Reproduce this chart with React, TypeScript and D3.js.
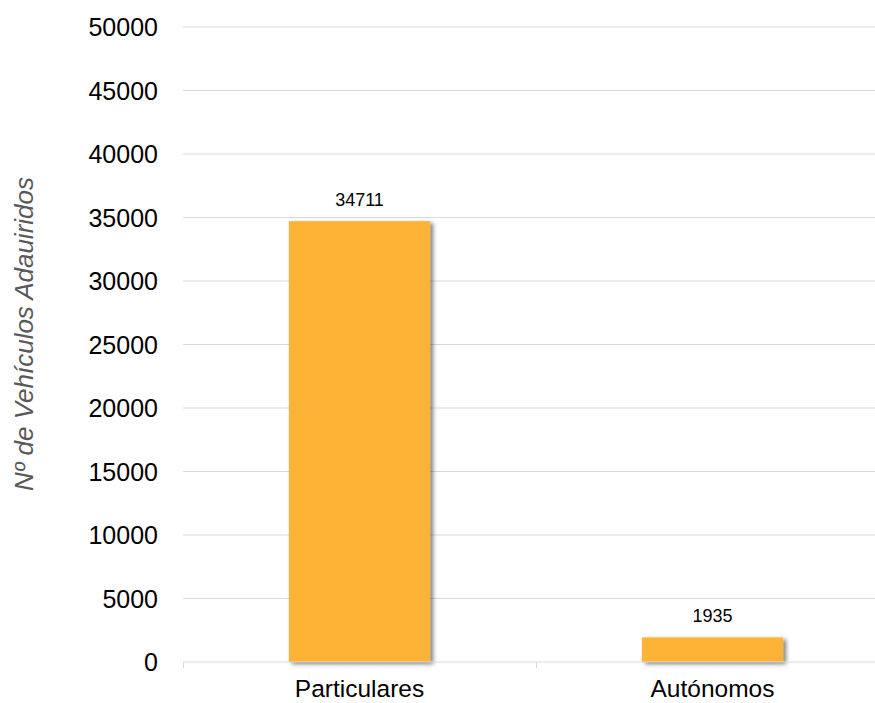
import React from "react";
import * as d3 from "d3";

const categories = ["Particulares", "Autónomos"];
const values = [34711, 1935];
const yTicks = [0, 5000, 10000, 15000, 20000, 25000, 30000, 35000, 40000, 45000, 50000];
const yTitle = "Nº de Vehículos Adauiridos";

export default function App() {
  const W = 875, H = 703;
  const left = 183, right = 889, top = 27, bottom = 662;
  const x = d3.scaleBand<string>().domain(categories).range([left, right]).paddingInner(0.6).paddingOuter(0.3);
  const xb = d3.scaleBand<string>().domain(categories).range([left, right]);
  const y = d3.scaleLinear().domain([0, 50000]).range([bottom, top]);
  const font = "'Liberation Sans', Arial, sans-serif";
  return (
    <svg width={W} height={H} style={{ position: "absolute", left: 0, top: 0 }} fontFamily={font}>
      <defs>
        <filter id="sh" x="-20%" y="-20%" width="150%" height="150%">
          <feDropShadow dx="3" dy="2" stdDeviation="2" floodColor="#000" floodOpacity="0.5" />
        </filter>
      </defs>
      <rect width={W} height={H} fill="#fff" />
      {yTicks.filter(t => t > 0).map(t => (
        <line key={t} x1={left} x2={right} y1={y(t)} y2={y(t)} stroke="#d9d9d9" strokeWidth={1} />
      ))}
      {yTicks.map(t => (
        <text key={"l" + t} x={158} y={y(t)} textAnchor="end" dominantBaseline="central" fontSize={25} fill="#000">{t}</text>
      ))}
      {categories.map((c, i) => (
        <g key={c}>
          <rect x={x(c)} y={y(values[i])} width={x.bandwidth()} height={bottom - y(values[i])} fill="#FDB334" filter="url(#sh)" />
          <text x={x(c)! + x.bandwidth() / 2} y={y(values[i]) - 21} textAnchor="middle" dominantBaseline="central" fontSize={18} fill="#000">{values[i]}</text>
          <text x={xb(c)! + xb.bandwidth() / 2} y={697} textAnchor="middle" fontSize={24.5} fill="#000">{c}</text>
        </g>
      ))}
      <line x1={left} x2={right} y1={bottom} y2={bottom} stroke="#d9d9d9" strokeWidth={1} />
      {[left, left + xb.bandwidth(), right].map((t, i) => (
        <line key={"t" + i} x1={t + 0.5} x2={t + 0.5} y1={bottom} y2={bottom + 6} stroke="#d9d9d9" strokeWidth={1} />
      ))}
      <text transform={`translate(33,334) rotate(-90)`} textAnchor="middle" fontSize={26} fontStyle="italic" fill="#595959">{yTitle}</text>
    </svg>
  );
}
